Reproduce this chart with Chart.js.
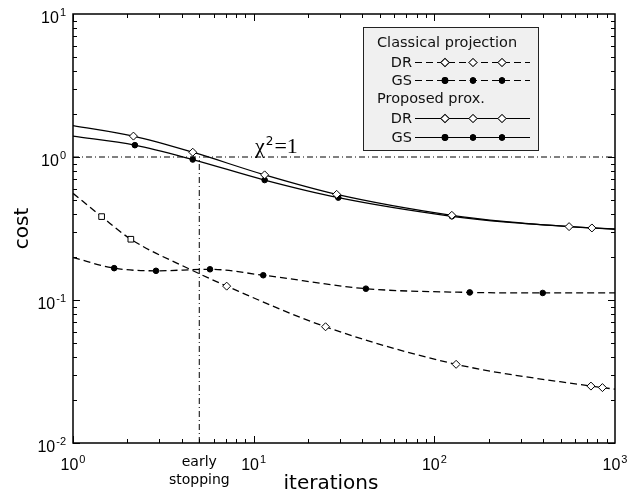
<!DOCTYPE html>
<html>
<head>
<meta charset="utf-8">
<script src="https://cdn.jsdelivr.net/npm/chart.js@4.4.0/dist/chart.umd.min.js"></script>
<style>
  html, body { margin: 0; padding: 0; background: #fff; }
  #wrap { width: 641px; height: 495px; }
</style>
</head>
<body>
<div id="wrap"><canvas id="costChart" width="641" height="495"></canvas></div>
<script>
// values: iterations (x) and cost (y), 1 = marker drawn at that point
const propDrIter  = [1, 2.16, 4.6, 11.5, 28.8, 125, 250, 557, 745, 1000];
const propDrCost  = [1.66, 1.40, 1.08, 0.75, 0.548, 0.391, 0.353, 0.326, 0.319, 0.314];
const propDrMarks = [0, 1, 1, 1, 1, 1, 0, 1, 1, 0];

const propGsIter  = [1, 2.2, 4.6, 11.5, 29.4, 125, 250, 1000];
const propGsCost  = [1.40, 1.21, 0.96, 0.69, 0.52, 0.385, 0.350, 0.312];
const propGsMarks = [0, 1, 1, 1, 1, 1, 0, 0];

const clasDrIter  = [1, 1.44, 2.09, 4.44, 7.09, 25, 132, 736, 852, 1000];
const clasDrCost  = [0.557, 0.383, 0.266, 0.164, 0.125, 0.065, 0.0355, 0.025, 0.0244, 0.0238];
const clasDrMarks = [0, 1, 1, 0, 1, 1, 1, 1, 1, 0];

const clasGsIter  = [1, 1.69, 2.88, 5.73, 11.3, 41.8, 157, 398, 1000];
const clasGsCost  = [0.198, 0.167, 0.160, 0.164, 0.149, 0.120, 0.113, 0.112, 0.112];
const clasGsMarks = [0, 1, 1, 1, 1, 1, 1, 1, 0];

const chiLevel = 1;        // chi^2 = 1 line
const earlyStopIter = 5;   // early stopping line
const xRange = [1, 1000];
const yRange = [0.01, 10];

const xTickExps = [0, 1, 2, 3];
const yTickExps = [-2, -1, 0, 1];

function pts(xs, ys) {
  return xs.map((x, i) => ({ x: x, y: ys[i] }));
}

function curve(xs, ys, marks, style) {
  return Object.assign({
    data: pts(xs, ys),
    showLine: true,
    borderColor: '#000',
    borderWidth: 1.3,
    cubicInterpolationMode: 'monotone',
    pointBorderColor: '#000',
    pointBorderWidth: 1,
    pointRadius: marks.map(m => m ? style.markSize : 0),
    pointHoverRadius: 0
  }, style);
}

const diamond = { pointStyle: 'rectRot', markSize: 4, pointBackgroundColor: '#fff' };
const dot = { pointStyle: 'circle', markSize: 2.8, pointBackgroundColor: '#000' };
const dashed = [7, 4];
const dashDot = [6, 3, 1, 3];

const datasets = [
  curve(propDrIter, propDrCost, propDrMarks, Object.assign({}, diamond)),
  curve(propGsIter, propGsCost, propGsMarks, Object.assign({}, dot)),
  curve(clasDrIter, clasDrCost, clasDrMarks, Object.assign({
    borderDash: dashed,
    pointRotation: clasDrMarks.map((m, i) => (i === 1 || i === 2) ? 45 : 0)
  }, diamond)),
  curve(clasGsIter, clasGsCost, clasGsMarks, Object.assign({ borderDash: dashed }, dot)),
  {
    data: [{ x: xRange[0], y: chiLevel }, { x: xRange[1], y: chiLevel }],
    showLine: true, borderColor: '#000', borderWidth: 1, borderDash: dashDot, pointRadius: 0
  },
  {
    data: [{ x: earlyStopIter, y: yRange[0] }, { x: earlyStopIter, y: chiLevel }],
    showLine: true, borderColor: '#000', borderWidth: 1, borderDash: dashDot, pointRadius: 0
  }
];

const sansTick = 'Liberation Sans, Arial, sans-serif';
const sansText = 'DejaVu Sans, sans-serif';
const serif = 'Liberation Serif, Times New Roman, serif';

function drawPow(ctx, exp, x, y, align) {
  ctx.font = '16px ' + sansTick;
  const wb = ctx.measureText('10').width;
  ctx.font = '11px ' + sansTick;
  const we = ctx.measureText(exp).width;
  const left = align === 'right' ? x - wb - we - 1 : x - (wb + we + 1) / 2;
  ctx.textAlign = 'left';
  ctx.font = '16px ' + sansTick;
  ctx.fillText('10', left, y);
  ctx.font = '11px ' + sansTick;
  ctx.fillText(exp, left + wb + 1, y - 7);
}

const axesPlugin = {
  id: 'axesPlugin',
  afterDraw(chart) {
    const ctx = chart.ctx;
    const a = chart.chartArea;
    const xs = chart.scales.x, ys = chart.scales.y;
    ctx.save();
    ctx.strokeStyle = '#000';
    ctx.fillStyle = '#000';
    ctx.setLineDash([]);

    // inward ticks on all four sides
    ctx.lineWidth = 1;
    ctx.beginPath();
    for (let e = 0; e < 3; e++) {
      for (let m = 1; m <= 9; m++) {
        const v = m * Math.pow(10, e);
        const px = Math.round(xs.getPixelForValue(v)) + 0.5;
        const len = m === 1 ? 7 : 4;
        ctx.moveTo(px, a.bottom); ctx.lineTo(px, a.bottom - len);
        ctx.moveTo(px, a.top); ctx.lineTo(px, a.top + len);
      }
    }
    for (let e = -2; e < 1; e++) {
      for (let m = 1; m <= 9; m++) {
        const v = m * Math.pow(10, e);
        const py = Math.round(ys.getPixelForValue(v)) + 0.5;
        const len = m === 1 ? 7 : 4;
        ctx.moveTo(a.left, py); ctx.lineTo(a.left + len, py);
        ctx.moveTo(a.right, py); ctx.lineTo(a.right - len, py);
      }
    }
    ctx.stroke();

    // frame
    ctx.lineWidth = 1.5;
    ctx.strokeRect(a.left, a.top, a.right - a.left, a.bottom - a.top);

    // tick labels
    ctx.textBaseline = 'alphabetic';
    xTickExps.forEach(e => {
      drawPow(ctx, String(e), xs.getPixelForValue(Math.pow(10, e)), a.bottom + 27, 'center');
    });
    yTickExps.forEach(e => {
      drawPow(ctx, String(e), a.left - 7, ys.getPixelForValue(Math.pow(10, e)) + 9, 'right');
    });

    // axis titles
    ctx.font = '20px ' + sansText;
    ctx.textAlign = 'center';
    ctx.fillText('iterations', 331, 489);
    ctx.save();
    ctx.translate(28, (a.top + a.bottom) / 2);
    ctx.rotate(-Math.PI / 2);
    ctx.fillText('cost', 0, 0);
    ctx.restore();

    // early stopping label
    ctx.font = '14px ' + sansText;
    const esx = xs.getPixelForValue(earlyStopIter);
    ctx.fillText('early', esx, 466);
    ctx.fillText('stopping', esx, 484);

    // chi^2 = 1 label
    const chiY = ys.getPixelForValue(chiLevel) - 4;
    ctx.textAlign = 'left';
    ctx.font = '22px ' + serif;
    ctx.fillText('\u03c7', 255, chiY);
    const wChi = ctx.measureText('\u03c7').width;
    ctx.font = '12px ' + sansText;
    ctx.fillText('2', 255 + wChi + 1, chiY - 8);
    const w2 = ctx.measureText('2').width;
    ctx.font = '22px ' + serif;
    ctx.fillText('=1', 255 + wChi + w2 + 2, chiY);

    // legend box
    ctx.fillStyle = '#f0f0f0';
    ctx.fillRect(363, 27, 175, 123);
    ctx.lineWidth = 1;
    ctx.strokeStyle = '#222';
    ctx.strokeRect(363.5, 27.5, 175, 123);

    ctx.fillStyle = '#111';
    ctx.font = '14.5px ' + sansText;
    ctx.textAlign = 'left';
    ctx.fillText('Classical projection', 377, 47);
    ctx.fillText('Proposed prox.', 377, 103);
    const rows = [
      { label: 'DR', y: 62, ds: datasets[2] },
      { label: 'GS', y: 80, ds: datasets[3] },
      { label: 'DR', y: 118, ds: datasets[0] },
      { label: 'GS', y: 137, ds: datasets[1] }
    ];
    rows.forEach(r => {
      ctx.fillStyle = '#111';
      ctx.textAlign = 'right';
      ctx.fillText(r.label, 412, r.y + 5);
      ctx.strokeStyle = '#000';
      ctx.lineWidth = 1.2;
      ctx.setLineDash(r.ds.borderDash || []);
      ctx.beginPath();
      ctx.moveTo(415, r.y + 0.5);
      ctx.lineTo(530, r.y + 0.5);
      ctx.stroke();
      ctx.setLineDash([]);
      [445, 473, 502].forEach(mx => {
        Chart.helpers.drawPoint(ctx, {
          pointStyle: r.ds.pointStyle,
          rotation: 0,
          radius: r.ds.markSize,
          borderWidth: 1
        }, mx, r.y + 0.5);
        ctx.fillStyle = r.ds.pointBackgroundColor;
        ctx.strokeStyle = '#000';
        ctx.lineWidth = 1;
        ctx.fill();
        ctx.stroke();
      });
    });
    ctx.restore();
  }
};

new Chart(document.getElementById('costChart').getContext('2d'), {
  type: 'scatter',
  data: { datasets: datasets },
  options: {
    responsive: false,
    animation: false,
    layout: { padding: { left: 73, right: 26, top: 14, bottom: 52 } },
    scales: {
      x: { type: 'logarithmic', min: xRange[0], max: xRange[1], display: false },
      y: { type: 'logarithmic', min: yRange[0], max: yRange[1], display: false }
    },
    plugins: {
      legend: { display: false },
      tooltip: { enabled: false }
    }
  },
  plugins: [axesPlugin]
});
</script>
</body>
</html>
